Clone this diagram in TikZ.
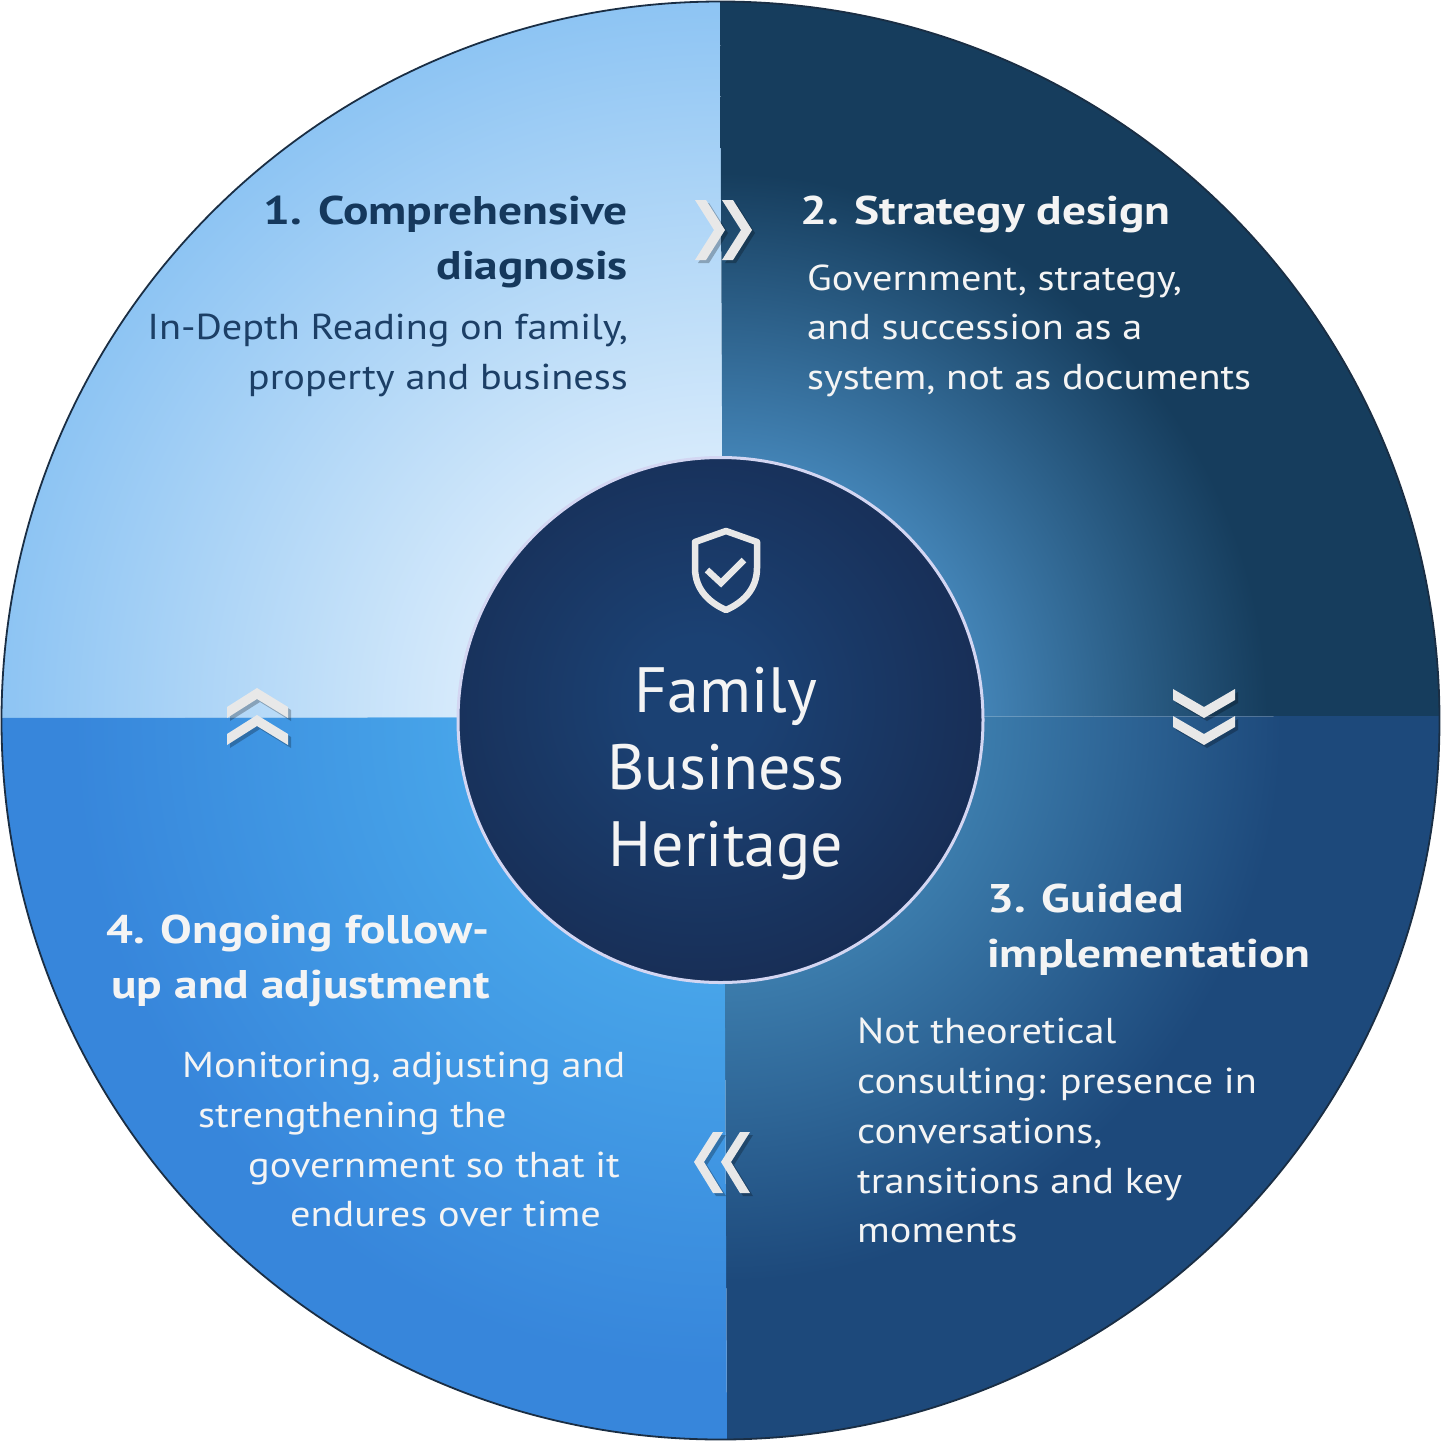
\documentclass[tikz,border=0pt]{standalone}
\usepackage{fontspec}
\setmainfont{PT Sans}
\newfontfamily\bodyfont{PT Sans}[FakeStretch=1.12]
\newfontfamily\ttlfont{PT Sans}[FakeStretch=1.185]
\usetikzlibrary{shadows}
\definecolor{tlin}{HTML}{D6EAFB}
\definecolor{tlout}{HTML}{8DC4F3}
\definecolor{trin}{HTML}{4282B4}
\definecolor{trout}{HTML}{163D5D}
\definecolor{brin}{HTML}{3B7BAB}
\definecolor{brout}{HTML}{1D497B}
\definecolor{blin}{HTML}{47A4E9}
\definecolor{blout}{HTML}{3786DB}
\definecolor{ccin}{HTML}{1B4173}
\definecolor{ccout}{HTML}{172C53}
\definecolor{ccrim}{HTML}{D3D6F2}
\definecolor{rim}{HTML}{1A2E44}
\definecolor{chev}{HTML}{E8E8E8}
\definecolor{qonet}{HTML}{15385C}
\definecolor{qoneb}{HTML}{1C3F66}
\definecolor{wt}{HTML}{F4F4F4}
\pgfdeclareradialshading{tlshade}{\pgfpoint{0bp}{0bp}}{color(0bp)=(tlin); color(18bp)=(tlin); color(50bp)=(tlout)}
\pgfdeclareradialshading{trshade}{\pgfpoint{0bp}{0bp}}{color(0bp)=(trin); color(18.5bp)=(trin); color(38bp)=(trout); color(50bp)=(trout)}
\pgfdeclareradialshading{brshade}{\pgfpoint{0bp}{0bp}}{color(0bp)=(brin); color(18.5bp)=(brin); color(39bp)=(brout); color(50bp)=(brout)}
\pgfdeclareradialshading{blshade}{\pgfpoint{0bp}{0bp}}{color(0bp)=(blin); color(18.5bp)=(blin); color(45bp)=(blout); color(50bp)=(blout)}
\pgfdeclareradialshading{ccshade}{\pgfpoint{0bp}{0bp}}{color(0bp)=(ccin); color(10bp)=(ccin); color(50bp)=(ccout)}
\tikzset{
  ttl/.style={font=\ttlfont\fontsize{40}{48}\selectfont\bfseries, inner sep=0pt},
  bdy/.style={font=\bodyfont\fontsize{36}{44}\selectfont, inner sep=0pt},
  ctr/.style={font=\fontsize{64}{72}\selectfont, inner sep=0pt, text=wt, anchor=base},
  chevron/.style={fill=chev, draw=none, drop shadow={shadow xshift=3pt, shadow yshift=-3pt, opacity=0.25, fill=black}},
  shadenode/.style={inner sep=0pt, outer sep=0pt, transform shape},
}
\begin{document}
\begin{tikzpicture}[x=1pt,y=-1pt]
\useasboundingbox (0,0) rectangle (1441,1441);
\coordinate (C) at (723.5,717);
% quadrants
\begin{scope}
  \clip (720.5,720.5) circle (719);
  \begin{scope}
    \clip (-5,-5) -- (720,-5) -- (C) -- (-5,718) -- cycle;
    \node[shadenode, scale=14.35] (shA) at (720,720) {\pgfuseshading{tlshade}};
  \end{scope}
  \begin{scope}
    \clip (720,-5) -- (1446,-5) -- (1446,716) -- (C) -- cycle;
    \node[shadenode, scale=14.35] (shB) at (720,720) {\pgfuseshading{trshade}};
  \end{scope}
  \begin{scope}
    \clip (C) -- (1446,716) -- (1446,1446) -- (727,1446) -- cycle;
    \node[shadenode, scale=14.35] (shC) at (720,720) {\pgfuseshading{brshade}};
  \end{scope}
  \begin{scope}
    \clip (-5,718) -- (C) -- (727,1446) -- (-5,1446) -- cycle;
    \node[shadenode, scale=14.35] (shD) at (720,720) {\pgfuseshading{blshade}};
  \end{scope}
\end{scope}
\node[circle, draw=rim, line width=1.8pt, minimum size=1438pt, inner sep=0pt] (outer) at (720.5,720.5) {};
% centre circle
\begin{scope}
  \clip (720.5,720) circle (262.5);
  \node[shadenode, scale=6.2] (shE) at (700,700) {\pgfuseshading{ccshade}};
\end{scope}
\node[circle, draw=ccrim, line width=3pt, minimum size=525pt, inner sep=0pt] (core) at (720.5,720) {};
% shield icon
\draw[chev, line width=6.5pt, line join=round] (726,531) -- (695,542) -- (695,568)
  .. controls (695,590) and (710,603) .. (726,610)
  .. controls (742,603) and (757,590) .. (757,568) -- (757,542) -- cycle;
\draw[chev, line width=6.5pt] (707,570) -- (721,583) -- (744,560);
% centre text
\node[ctr] (cA) at (726,712) {Family};
\node[ctr] (cB) at (726,789) {Business};
\node[ctr] (cC) at (726,866) {Heritage};
% chevrons
\path[chevron] (695,200) -- (706,200) -- (725,230) -- (706,260) -- (695,260) -- (714,230) -- cycle;
\path[chevron] (722,200) -- (733,200) -- (752,230) -- (733,260) -- (722,260) -- (741,230) -- cycle;
\path[chevron] (1173,689) -- (1204,707) -- (1235,689) -- (1235,700) -- (1204,718) -- (1173,700) -- cycle;
\path[chevron] (1173,716) -- (1204,734) -- (1235,716) -- (1235,727) -- (1204,745) -- (1173,727) -- cycle;
\path[chevron] (723,1132) -- (713,1132) -- (694,1162) -- (713,1193) -- (723,1193) -- (704,1162) -- cycle;
\path[chevron] (750,1132) -- (740,1132) -- (721,1162) -- (740,1193) -- (750,1193) -- (731,1162) -- cycle;
\path[chevron] (227,707) -- (257,688) -- (288,707) -- (288,718) -- (257,699) -- (227,718) -- cycle;
\path[chevron] (227,734) -- (257,715) -- (288,734) -- (288,745) -- (257,726) -- (227,745) -- cycle;
% section 1
\node[ttl, text=qonet, anchor=base east] (t1a) at (628,224) {1. Comprehensive};
\node[ttl, text=qonet, anchor=base east] (t1b) at (628,279) {diagnosis};
\node[bdy, text=qoneb, anchor=base east] (b1a) at (628,339) {In-Depth Reading on family,};
\node[bdy, text=qoneb, anchor=base east] (b1b) at (628,389) {property and business};
% section 2
\node[ttl, text=wt, anchor=base west] (t2a) at (800,224) {2. Strategy design};
\node[bdy, text=wt, anchor=base west] (b2a) at (807,290) {Government, strategy,};
\node[bdy, text=wt, anchor=base west] (b2b) at (807,339) {and succession as a};
\node[bdy, text=wt, anchor=base west] (b2c) at (807,389) {system, not as documents};
% section 3
\node[ttl, text=wt, anchor=base west] (t3a) at (987,912) {3. Guided};
\node[ttl, text=wt, anchor=base west] (t3b) at (987,967) {implementation};
\node[bdy, text=wt, anchor=base west] (b3a) at (857,1043) {Not theoretical};
\node[bdy, text=wt, anchor=base west] (b3b) at (857,1093) {consulting: presence in};
\node[bdy, text=wt, anchor=base west] (b3c) at (857,1143) {conversations,};
\node[bdy, text=wt, anchor=base west] (b3d) at (857,1193) {transitions and key};
\node[bdy, text=wt, anchor=base west] (b3e) at (857,1242) {moments};
% section 4
\node[ttl, text=wt, anchor=base east] (t4a) at (490,943) {4. Ongoing follow-};
\node[ttl, text=wt, anchor=base east] (t4b) at (490,998) {up and adjustment};
\node[bdy, text=wt, anchor=base west] (b4a) at (182,1077) {Monitoring, adjusting and};
\node[bdy, text=wt, anchor=base west] (b4b) at (198,1127) {strengthening the};
\node[bdy, text=wt, anchor=base west] (b4c) at (248,1177) {government so that it};
\node[bdy, text=wt, anchor=base west] (b4d) at (290,1226) {endures over time};
\end{tikzpicture}
\end{document}
